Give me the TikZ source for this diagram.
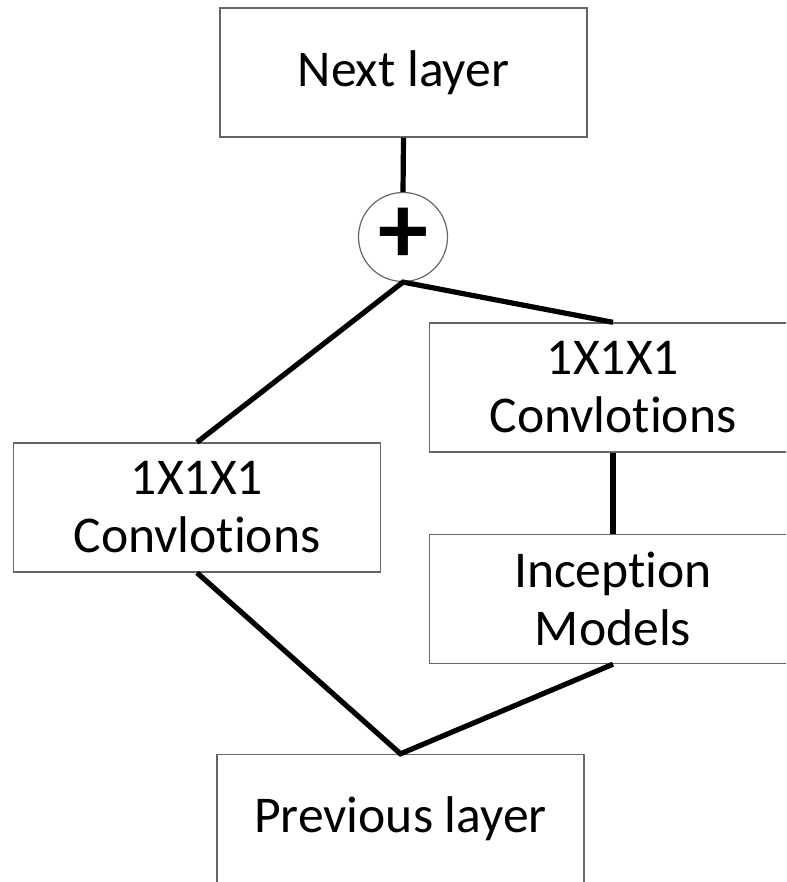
\documentclass[tikz,border=0pt]{standalone}
\usepackage{fontspec}
\setmainfont[Ligatures=NoCommon]{Carlito}
\usepackage{tikz}

\begin{document}
\begin{tikzpicture}[x=0.5pt,y=-0.5pt,
  box/.style={draw=black!60,line width=0.7pt,minimum width=183.5pt,minimum height=64.5pt,align=center,font=\fontsize{25.8}{29}\selectfont,inner sep=0pt},
  link/.style={line width=2.6pt,black}]
\clip (0,0) rectangle (786,882);
\node[box] (next) at (403.5,72.5) {Next layer};
\node[draw=black!60,line width=0.6pt,circle,minimum size=44.5pt,inner sep=0pt,font=\fontsize{50}{50}\selectfont\bfseries] (sum) at (403,237) {\raisebox{1pt}{+}};
\node[box] (convr) at (613,387.5) {1X1X1\\Convlotions};
\node[box] (incep) at (613,599) {Inception\\Models};
\node[box] (convl) at (197,507.5) {1X1X1\\Convlotions};
\node[box] (prev) at (400.5,819) {Previous layer};
\draw[link] (next.south) -- (sum.north);
\draw[link] (convl.north) -- (sum.south) -- (convr.north);
\draw[link] (convr.south) -- (incep.north);
\draw[link] (convl.south) -- (prev.north) -- (incep.south);
\end{tikzpicture}
\end{document}
